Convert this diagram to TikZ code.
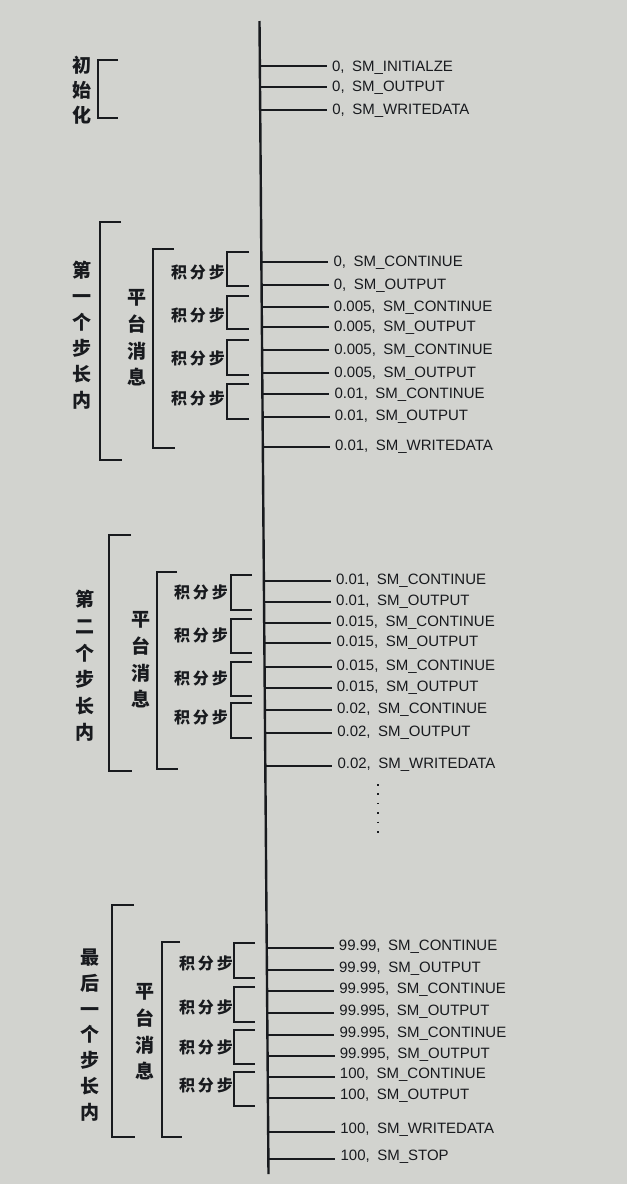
\documentclass[tikz,border=0pt]{standalone}
\usepackage{fontspec}
\setmainfont{Liberation Sans}
\newfontfamily\cjk{Noto Sans CJK SC}
\newfontfamily\cjkspaced{Noto Sans CJK SC}[LetterSpace=18]
\usepackage{tikz}
\usetikzlibrary{calc,positioning}
\definecolor{screen}{RGB}{210,211,207}
\definecolor{ink}{RGB}{24,26,30}
\tikzset{
    timeline/.style={draw=ink, line width=2.4pt},
    tick/.style={draw=ink, line width=1.2pt},
    bracket/.style={draw=ink, line width=1.2pt},
    evlabel/.style={
        anchor=west,
        inner xsep=5pt, inner ysep=1pt,
        text=ink,
        font={\fontsize{15pt}{16}\selectfont}
    },
    vtext/.style={
        align=center, inner sep=0pt, text=ink,
        font={\cjk\bfseries\fontsize{19pt}{#1}\selectfont}
    },
    vtext/.default=26,
    stepname/.style={
        inner sep=0pt, text=ink,
        font={\cjkspaced\bfseries\fontsize{16pt}{16}\selectfont}
    },
}
\begin{document}
\begin{tikzpicture}
[
    x=1pt, y=-1pt,
    dots/.style={draw=ink, line width=1.6pt, dash pattern=on 1.6pt off 7.8pt},
]
\fill[screen] (0,0) rectangle (627,1184);
\useasboundingbox (0,0) rectangle (627,1184);

% time axis
\coordinate (top) at (259.5,21);
\coordinate (bot) at (268.5,1174);
\draw[timeline] (top) -- (bot);

% solver calls
\foreach \ty/\txt [count=\i] in {
    66/{0,\enspace SM\_INITIALZE}, 87/{0,\enspace SM\_OUTPUT}, 110/{0,\enspace SM\_WRITEDATA},
    262/{0,\enspace SM\_CONTINUE}, 285/{0,\enspace SM\_OUTPUT},
    307/{0.005,\enspace SM\_CONTINUE}, 327/{0.005,\enspace SM\_OUTPUT},
    350/{0.005,\enspace SM\_CONTINUE}, 373/{0.005,\enspace SM\_OUTPUT},
    394/{0.01,\enspace SM\_CONTINUE}, 417/{0.01,\enspace SM\_OUTPUT},
    447/{0.01,\enspace SM\_WRITEDATA},
    581/{0.01,\enspace SM\_CONTINUE}, 602/{0.01,\enspace SM\_OUTPUT},
    623/{0.015,\enspace SM\_CONTINUE}, 643/{0.015,\enspace SM\_OUTPUT},
    667/{0.015,\enspace SM\_CONTINUE}, 688/{0.015,\enspace SM\_OUTPUT},
    710/{0.02,\enspace SM\_CONTINUE}, 733/{0.02,\enspace SM\_OUTPUT},
    766/{0.02,\enspace SM\_WRITEDATA},
    948/{99.99,\enspace SM\_CONTINUE}, 970/{99.99,\enspace SM\_OUTPUT},
    991/{99.995,\enspace SM\_CONTINUE}, 1013/{99.995,\enspace SM\_OUTPUT},
    1035/{99.995,\enspace SM\_CONTINUE}, 1056/{99.995,\enspace SM\_OUTPUT},
    1077/{100,\enspace SM\_CONTINUE}, 1098/{100,\enspace SM\_OUTPUT},
    1132/{100,\enspace SM\_WRITEDATA}, 1159/{100,\enspace SM\_STOP}}
{
    \pgfmathsetmacro\mx{259.5+(\ty-21)*0.0078}
    \coordinate (t\i) at (\mx,\ty);
    \node[evlabel] (ev\i) at (\mx+67,\ty+1.5-\ty/330) {\txt};
    \draw[tick] (t\i) -- (t\i -| ev\i.west);
}
\draw[dots] (378,784) -- (378,836);

% initialisation
\node[vtext=25] (init) at (82,90) {初\\始\\化};
\draw[bracket] (118,60) -- (98,60) -- (98,118) -- (118,118);

% first step
\node[vtext] (step1) at (82,335) {第\\一\\个\\步\\长\\内};
\draw[bracket] (121,222) -- (100,222) -- (100,460) -- (122,460);
\node[vtext=26.7] (msg1) at (137,338) {平\\台\\消\\息};
\draw[bracket] (174,249) -- (153,249) -- (153,448) -- (175,448);
\foreach \sy/\top/\bot [count=\j] in {272/252/286, 315/296/329, 358/340/375, 398/384/419}
{
    \node[stepname] (int1\j) at (198,\sy) {积分步};
    \draw[bracket] (249,\top) -- (227,\top) -- (227,\bot) -- (249,\bot);
}

% second step
\node[vtext=26.6] (step2) at (85,666) {第\\二\\个\\步\\长\\内};
\draw[bracket] (131,535) -- (109,535) -- (109,771) -- (132,771);
\node[vtext=26.7] (msg2) at (141,660) {平\\台\\消\\息};
\draw[bracket] (177,572) -- (157,572) -- (157,769) -- (178,769);
\foreach \sy/\top/\bot [count=\j] in {592/575/610, 635/619/653, 678/662/696, 717/703/738}
{
    \node[stepname] (int2\j) at (201,\sy) {积分步};
    \draw[bracket] (252,\top) -- (231,\top) -- (231,\bot) -- (252,\bot);
}

% last step
\node[vtext=25.7] (stepN) at (90,1035) {最\\后\\一\\个\\步\\长\\内};
\draw[bracket] (134,905) -- (112,905) -- (112,1137) -- (135,1137);
\node[vtext=26.7] (msgN) at (145,1032) {平\\台\\消\\息};
\draw[bracket] (180,942) -- (162,942) -- (162,1137) -- (182,1137);
\foreach \sy/\top/\bot [count=\j] in {963/943/978, 1007/987/1022, 1047/1030/1064, 1085/1072/1106}
{
    \node[stepname] (intN\j) at (206,\sy) {积分步};
    \draw[bracket] (255,\top) -- (234,\top) -- (234,\bot) -- (255,\bot);
}
\end{tikzpicture}
\end{document}
